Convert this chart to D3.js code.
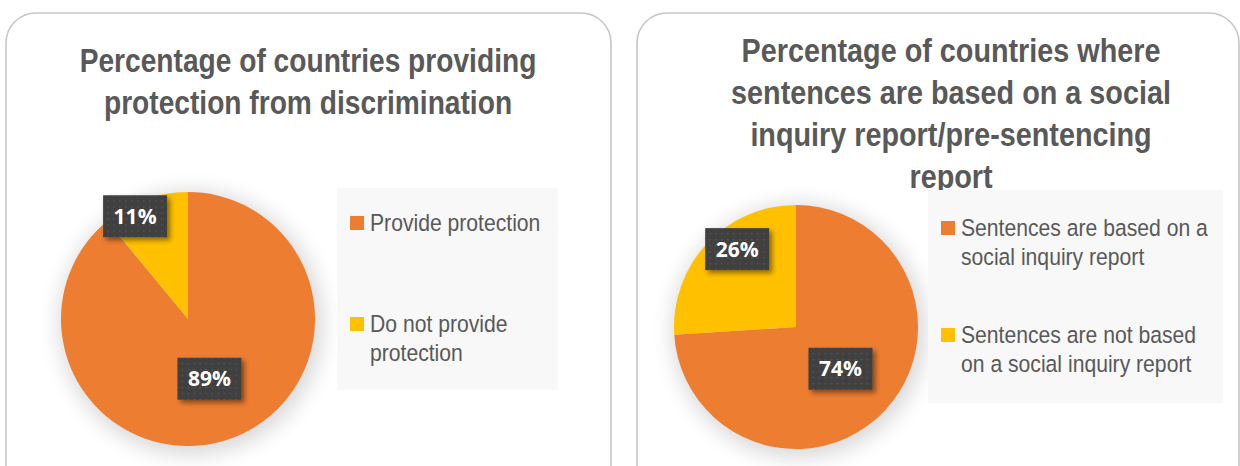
<!DOCTYPE html>
<html>
<head>
<meta charset="utf-8">
<script src="https://cdn.jsdelivr.net/npm/d3@7/dist/d3.min.js"></script>
<style>
  body { margin: 0; background: #fff; }
  svg { display: block; }
</style>
</head>
<body>
<script>
// data
var leftTitle = ["Percentage of countries providing", "protection from discrimination"];
var leftCategories = ["Provide protection", "Do not provide protection"];
var leftLegendLines = [["Provide protection"], ["Do not provide", "protection"]];
var leftValues = [89, 11];

var rightTitle = ["Percentage of countries where", "sentences are based on a social", "inquiry report/pre-sentencing", "report"];
var rightCategories = ["Sentences are based on a social inquiry report", "Sentences are not based on a social inquiry report"];
var rightLegendLines = [["Sentences are based on a", "social inquiry report"], ["Sentences are not based", "on a social inquiry report"]];
var rightValues = [74, 26];

var colors = ["#ED7D31", "#FFC000"];

var width = 1240, height = 466;
var baseFont = "'Liberation Sans', Arial, sans-serif";

var svg = d3.select("body").append("svg")
  .attr("width", width)
  .attr("height", height);

var defs = svg.append("defs");
defs.append("filter").attr("id", "pieGlow")
  .attr("x", "-30%").attr("y", "-30%").attr("width", "160%").attr("height", "160%")
  .append("feGaussianBlur").attr("stdDeviation", 11);

var shadow = defs.append("filter").attr("id", "boxShadow")
  .attr("x", "-30%").attr("y", "-30%").attr("width", "170%").attr("height", "170%");
shadow.append("feDropShadow")
  .attr("dx", 3).attr("dy", 3).attr("stdDeviation", 2.5)
  .attr("flood-color", "#000").attr("flood-opacity", 0.45);

var dots = defs.append("pattern").attr("id", "dots")
  .attr("width", 6).attr("height", 6).attr("patternUnits", "userSpaceOnUse");
dots.append("rect").attr("width", 6).attr("height", 6).attr("fill", "#404040");
dots.append("rect").attr("x", 2).attr("y", 2).attr("width", 1.5).attr("height", 1.5).attr("fill", "#555");

function drawPanel(cfg) {
  var g = svg.append("g");

  g.append("rect")
    .attr("x", cfg.box[0]).attr("y", cfg.box[1])
    .attr("width", cfg.box[2]).attr("height", cfg.box[3])
    .attr("rx", 30).attr("ry", 30)
    .attr("fill", "#fff")
    .attr("stroke", "#c6c6c6")
    .attr("stroke-width", 1.6);

  // title, squeezed to look like a narrow font
  var tg = g.append("g");
  var t = tg.append("text")
    .attr("text-anchor", "middle")
    .attr("font-family", baseFont)
    .attr("font-weight", "bold")
    .attr("font-size", 33)
    .attr("fill", "#595959");
  cfg.title.forEach(function (line, i) {
    t.append("tspan")
      .attr("x", 0)
      .attr("y", cfg.titleY + i * 42)
      .text(line);
  });
  var firstLen = t.select("tspan").node().getComputedTextLength();
  var sx = cfg.titleWidth / firstLen;
  tg.attr("transform", "translate(" + cfg.titleX + ",0) scale(" + sx + ",1)");

  // pie, clockwise from 12 o'clock like Excel
  var pie = d3.pie().sort(null).value(function (d) { return d; });
  var arcs = pie(cfg.values);
  var arc = d3.arc().innerRadius(0).outerRadius(cfg.r);
  var pg = g.append("g").attr("transform", "translate(" + cfg.cx + "," + cfg.cy + ")");

  pg.append("circle")
    .attr("cx", 3).attr("cy", 4).attr("r", cfg.r + 4)
    .attr("fill", "#000").attr("opacity", 0.16)
    .attr("filter", "url(#pieGlow)");

  pg.selectAll("path.slice")
    .data(arcs)
    .enter().append("path")
    .attr("class", "slice")
    .attr("d", arc)
    .attr("fill", function (d, i) { return colors[i]; });

  // data labels
  arcs.forEach(function (d, i) {
    var place = cfg.labelPlace[i];
    var a = (d.startAngle + d.endAngle) / 2 + place.shift;
    var rr = cfg.r * place.rad;
    var x = Math.sin(a) * rr, y = -Math.cos(a) * rr;
    var lg = pg.append("g").attr("transform", "translate(" + x + "," + y + ")");
    lg.append("rect")
      .attr("x", -32).attr("y", -21)
      .attr("width", 64).attr("height", 42)
      .attr("fill", "url(#dots)")
      .attr("filter", "url(#boxShadow)");
    lg.append("text")
      .attr("text-anchor", "middle")
      .attr("dy", "0.36em")
      .attr("font-family", "'Open Sans', 'DejaVu Sans', sans-serif")
      .attr("font-weight", "bold")
      .attr("font-size", 21)
      .attr("fill", "#fff")
      .text(d.data + "%");
  });

  // legend
  var lgd = g.append("g");
  lgd.append("rect")
    .attr("x", cfg.legend[0]).attr("y", cfg.legend[1])
    .attr("width", cfg.legend[2]).attr("height", cfg.legend[3])
    .attr("fill", "#f8f8f8");

  cfg.legendLines.forEach(function (lines, i) {
    var y0 = cfg.legendY[i];
    lgd.append("rect")
      .attr("x", cfg.legend[0] + 13).attr("y", y0 - 15)
      .attr("width", 14).attr("height", 14)
      .attr("fill", colors[i]);
    var tx = lgd.append("text")
      .attr("transform", "translate(" + (cfg.legend[0] + 33) + ",0) scale(0.9,1)")
      .attr("font-family", baseFont)
      .attr("font-size", 23.5)
      .attr("fill", "#595959");
    lines.forEach(function (line, k) {
      tx.append("tspan")
        .attr("x", 0)
        .attr("y", y0 + k * 29)
        .text(line);
    });
  });
}

drawPanel({
  box: [6, 13, 605, 500],
  title: leftTitle, titleX: 308, titleY: 72, titleWidth: 457,
  values: leftValues,
  cx: 188, cy: 319, r: 127,
  labelPlace: [{ rad: 0.5, shift: 0 }, { rad: 0.91, shift: -0.13 }],
  legend: [337, 188, 221, 202],
  legendLines: leftLegendLines,
  legendY: [231, 332]
});

drawPanel({
  box: [637, 13, 602, 500],
  title: rightTitle, titleX: 951, titleY: 62, titleWidth: 419,
  values: rightValues,
  cx: 796, cy: 327, r: 122,
  labelPlace: [{ rad: 0.5, shift: 0 }, { rad: 0.8, shift: 0.17 }],
  legend: [928, 190, 295, 213],
  legendLines: rightLegendLines,
  legendY: [236, 343]
});
</script>
</body>
</html>
